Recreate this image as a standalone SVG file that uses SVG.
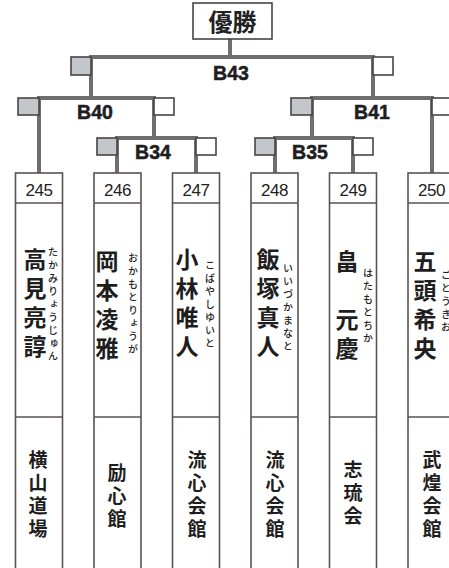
<svg xmlns="http://www.w3.org/2000/svg" width="449" height="568" viewBox="0 0 449 568">
<style>
.ln{stroke:#6e6e6e;stroke-width:4;fill:none;stroke-linecap:square}
.sq{stroke:#4a4444;stroke-width:1.6}
.g{fill:#c3c7cb}
.w{fill:#fff}
.col{fill:#fff;stroke:#5a5252;stroke-width:1.6}
.dv{stroke:#5a5252;stroke-width:1.6}
.lbl{font-family:"Liberation Sans",Arial,sans-serif;font-weight:bold;font-size:19.5px;fill:#1e1e1e;text-anchor:middle;stroke:#1e1e1e;stroke-width:0.5}
.num{font-family:"Liberation Sans",Arial,sans-serif;font-size:17px;fill:#222;text-anchor:middle;letter-spacing:-0.5px}
.nm{font-family:"Noto Sans CJK JP",sans-serif;font-weight:bold;font-size:23px;fill:#1e1e1e;writing-mode:vertical-rl;letter-spacing:6px}
.rb{font-family:"Noto Sans CJK JP",sans-serif;font-weight:500;font-size:10px;fill:#222;writing-mode:vertical-rl;letter-spacing:3px}
.dj{font-family:"Noto Sans CJK JP",sans-serif;font-weight:bold;font-size:19px;fill:#1e1e1e;writing-mode:vertical-rl;letter-spacing:4px}
.top{font-family:"Noto Sans CJK JP",sans-serif;font-weight:bold;font-size:24px;fill:#222;text-anchor:middle}
</style>
<g id="connectors">
<path class="ln" d="M230 39V57M91 57H373M91 57V98M373 57V98"/>
<path class="ln" d="M39 98H154M39 98V173M154 98V138M117 138H196M117 138V173M196 138V173"/>
<path class="ln" d="M312 98H432M312 98V138M432 98V173M275 138H353M275 138V173M353 138V173"/>
<rect class="sq g" x="71" y="57" width="20" height="18"/>
<rect class="sq w" x="373" y="57" width="20" height="18"/>
<rect class="sq g" x="18" y="98" width="21" height="17"/>
<rect class="sq w" x="154" y="98" width="20" height="17"/>
<rect class="sq g" x="291" y="98" width="21" height="17"/>
<rect class="sq w" x="432" y="98" width="20" height="17"/>
<rect class="sq g" x="97" y="138" width="20" height="17"/>
<rect class="sq w" x="196" y="138" width="20" height="17"/>
<rect class="sq g" x="255" y="138" width="20" height="17"/>
<rect class="sq w" x="353" y="138" width="20" height="17"/>
<text class="lbl" x="231" y="80">B43</text>
<text class="lbl" x="95" y="119">B40</text>
<text class="lbl" x="372" y="119">B41</text>
<text class="lbl" x="153" y="159">B34</text>
<text class="lbl" x="310" y="159">B35</text>
</g>
<g id="winner">
<rect x="193" y="3" width="79" height="36" fill="#fff" stroke="#4a4444" stroke-width="1.6"/>
<text class="top" x="232.5" y="31">優勝</text>
</g>
<g id="p245">
<rect class="col" x="15.5" y="173" width="47" height="400"/>
<line class="dv" x1="15.5" y1="203" x2="62.5" y2="203"/>
<line class="dv" x1="15.5" y1="417" x2="62.5" y2="417"/>
<text class="num" x="39" y="196">245</text>
<text class="nm" x="35" y="248">高見亮諄</text>
<text class="rb" x="53" y="247">たかみりょうじゅん</text>
<text class="dj" x="38" y="450">横山道場</text>
</g>
<g id="p246">
<rect class="col" x="94" y="173" width="47" height="400"/>
<line class="dv" x1="94" y1="203" x2="141" y2="203"/>
<line class="dv" x1="94" y1="417" x2="141" y2="417"/>
<text class="num" x="117.5" y="196">246</text>
<text class="nm" x="107" y="250">岡本凌雅</text>
<text class="rb" x="133" y="253">おかもとりょうが</text>
<text class="dj" x="117" y="463">励心館</text>
</g>
<g id="p247">
<rect class="col" x="172.5" y="173" width="47" height="400"/>
<line class="dv" x1="172.5" y1="203" x2="219.5" y2="203"/>
<line class="dv" x1="172.5" y1="417" x2="219.5" y2="417"/>
<text class="num" x="196" y="196">247</text>
<text class="nm" x="187" y="248">小林唯人</text>
<text class="rb" x="210" y="260">こばやしゆいと</text>
<text class="dj" x="197" y="450">流心会館</text>
</g>
<g id="p248">
<rect class="col" x="251" y="173" width="47" height="400"/>
<line class="dv" x1="251" y1="203" x2="298" y2="203"/>
<line class="dv" x1="251" y1="417" x2="298" y2="417"/>
<text class="num" x="274.5" y="196">248</text>
<text class="nm" x="268" y="248">飯塚真人</text>
<text class="rb" x="288" y="263">いいづかまなと</text>
<text class="dj" x="275" y="450">流心会館</text>
</g>
<g id="p249">
<rect class="col" x="329.5" y="173" width="47" height="400"/>
<line class="dv" x1="329.5" y1="203" x2="376.5" y2="203"/>
<line class="dv" x1="329.5" y1="417" x2="376.5" y2="417"/>
<text class="num" x="353" y="196">249</text>
<text class="nm" x="347" y="250">畠　元慶</text>
<text class="rb" x="368" y="268">はたもとちか</text>
<text class="dj" x="353" y="460">志琉会</text>
</g>
<g id="p250">
<rect class="col" x="408" y="173" width="47" height="400"/>
<line class="dv" x1="408" y1="203" x2="455" y2="203"/>
<line class="dv" x1="408" y1="417" x2="455" y2="417"/>
<text class="num" x="431.5" y="196">250</text>
<text class="nm" x="425" y="250">五頭希央</text>
<text class="rb" x="446" y="270">ごとうきお</text>
<text class="dj" x="432" y="450">武煌会館</text>
</g>
</svg>
